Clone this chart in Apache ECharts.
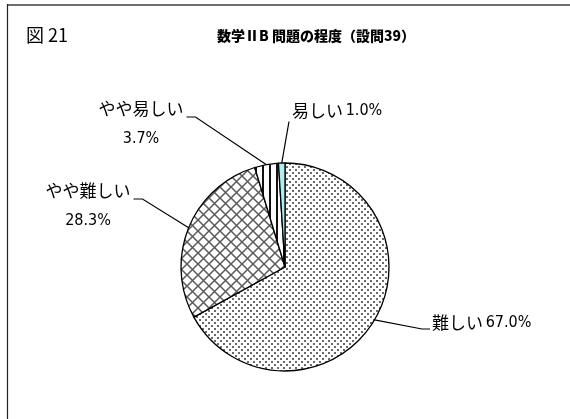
<!DOCTYPE html>
<html>
<head>
<meta charset="utf-8">
<script src="https://cdn.jsdelivr.net/npm/echarts@6/dist/echarts.min.js"></script>
<style>
  html, body { margin: 0; padding: 0; background: #fff; }
  #chart { width: 570px; height: 419px; }
</style>
</head>
<body>
<div id="chart"></div>
<script>
// Survey answers: perceived difficulty of 数学ⅡB (question 39), in percent
const categories = ['難しい', 'やや難しい', 'やや易しい', '易しい'];
const percents = [67.0, 28.3, 3.7, 1.0];
const figureNo = '図 21';
const titleText = '数学ⅡB 問題の程度（設問39）';

const FONT = '"Noto Sans CJK JP", "Noto Sans", sans-serif';
const NARROW = '"Liberation Sans Narrow", "DejaVu Sans Condensed", "Noto Sans CJK JP", sans-serif';

// Small repeating tiles used as slice fills
function tile(w, h, draw) {
  const c = document.createElement('canvas');
  c.width = w; c.height = h;
  const ctx = c.getContext('2d');
  ctx.fillStyle = '#fff';
  ctx.fillRect(0, 0, w, h);
  draw(ctx, w, h);
  return { image: c, repeat: 'repeat' };
}
const dotFill = tile(6, 6, (ctx) => {
  ctx.fillStyle = '#6a6a6a';
  ctx.fillRect(1, 1, 2, 2);
  ctx.fillRect(4, 4, 2, 2);
});
const crossFill = tile(11, 11, (ctx, w, h) => {
  ctx.strokeStyle = '#5a5a5a';
  ctx.lineWidth = 1.5;
  ctx.beginPath();
  ctx.moveTo(0, 0); ctx.lineTo(w, h);
  ctx.moveTo(w, 0); ctx.lineTo(0, h);
  ctx.stroke();
});
const stripeFill = tile(7, 4, (ctx) => {
  ctx.fillStyle = '#111';
  ctx.fillRect(3, 0, 2, 4);
});
const fills = [dotFill, crossFill, stripeFill, '#b2eef0'];

// Label placement per slice: anchor point, alignment and which side the leader line meets
const labelSpots = [
  { x: 432, y: 323, align: 'left',   side: 'right' },
  { x: 88,  y: 206, align: 'center', side: 'left' },
  { x: 141, y: 124, align: 'center', side: 'left' },
  { x: 292, y: 111, align: 'left',   side: 'below' }
];

const chart = echarts.init(document.getElementById('chart'), null, { renderer: 'canvas' });

chart.setOption({
  animation: false,
  backgroundColor: '#fff',
  graphic: [
    { type: 'line', shape: { x1: 7, y1: 5, x2: 570, y2: 5 }, style: { stroke: '#6e6e6e', lineWidth: 2 } },
    { type: 'line', shape: { x1: 7.5, y1: 4, x2: 7.5, y2: 419 }, style: { stroke: '#222', lineWidth: 1.2 } }
  ],
  title: [
    { text: figureNo, left: 21, top: 21,
      textStyle: { fontFamily: FONT, fontSize: 18, fontWeight: 'normal', color: '#000' } },
    { text: titleText, left: 212, top: 24,
      textStyle: { fontFamily: FONT, fontSize: 14, fontWeight: 900, color: '#000' } }
  ],
  series: [{
    type: 'pie',
    center: [285, 267],
    radius: 104,
    startAngle: 90,
    clockwise: true,
    silent: true,
    data: categories.map((name, i) => ({
      name: name,
      value: percents[i],
      itemStyle: { color: fills[i] }
    })),
    itemStyle: { borderColor: '#000', borderWidth: 1.3 },
    emphasis: { disabled: true },
    label: {
      show: true,
      position: 'outside',
      color: '#000',
      fontFamily: FONT,
      formatter: (p) => {
        const pct = p.value.toFixed(1) + '%';
        return labelSpots[p.dataIndex].align === 'center'
          ? '{n|' + p.name + '}\n{p|' + pct + '}'
          : '{n|' + p.name + '} {p|' + pct + '}';
      },
      rich: {
        n: { fontFamily: FONT, fontSize: 17, lineHeight: 30, color: '#000' },
        p: { fontFamily: NARROW, fontSize: 16, lineHeight: 30, color: '#000' }
      }
    },
    labelLine: { show: true, length: 10, length2: 10, lineStyle: { color: '#000', width: 1.2 } },
    labelLayout: (params) => {
      const s = labelSpots[params.dataIndex];
      const w = params.labelRect.width, h = params.labelRect.height;
      const left = s.align === 'center' ? s.x - w / 2 : s.x;
      const top = s.y - h / 2;
      const pts = params.labelLinePoints;
      const edge = pts[0];
      let end, bend;
      if (s.side === 'left') {
        end = [left + w + 3, top + h / 2 - 7];
        bend = [end[0] + 9, end[1]];
      } else if (s.side === 'right') {
        end = [left - 2, s.y + 6];
        bend = [end[0] - 8, end[1]];
      } else {
        end = [left - 3, top + h + 2];
        bend = end;
      }
      return {
        x: s.x, y: s.y, align: s.align, verticalAlign: 'middle',
        labelLinePoints: [edge, bend, end]
      };
    }
  }]
});
</script>
</body>
</html>
